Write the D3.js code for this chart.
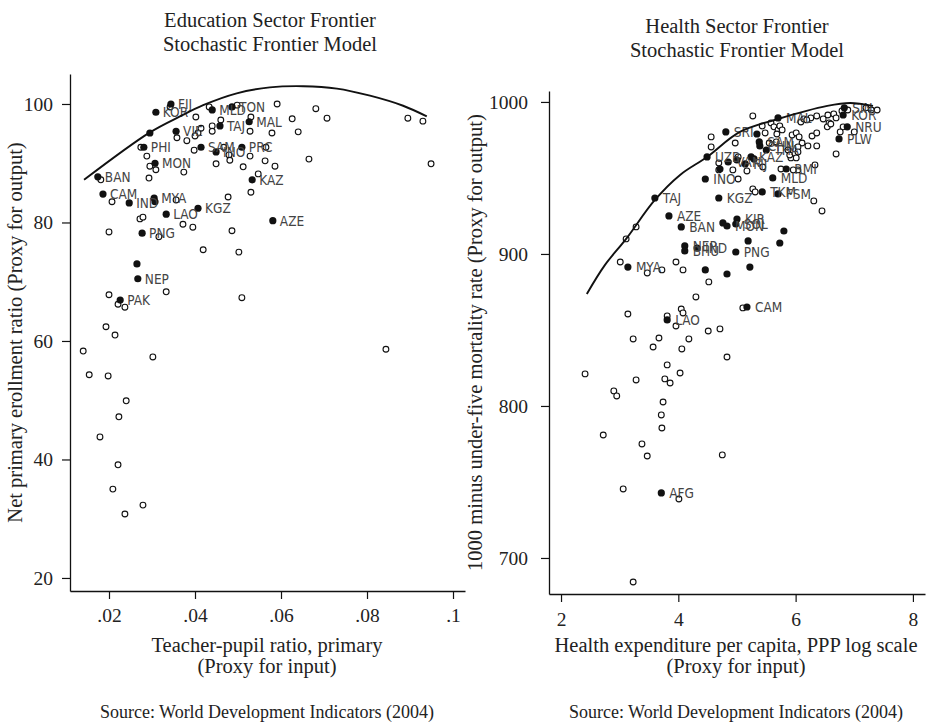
<!DOCTYPE html>
<html><head><meta charset="utf-8">
<script src="https://cdn.jsdelivr.net/npm/d3@7"></script>
<style>
body{margin:0;background:#fff;}
svg{display:block;}
.serif{font-family:"Liberation Serif","Times New Roman",serif;fill:#222;}
.lab{font-family:"DejaVu Sans Condensed","DejaVu Sans",sans-serif;font-stretch:condensed;fill:#444;font-size:13.5px;}
</style></head>
<body>
<script>
// ---------- Education panel data ----------
// filled (highlighted) countries: [label, teacher-pupil ratio, net primary enrollment]
const eduFilled = [
 ["FIJ",0.0344,100.0],["KOR",0.0309,98.6],["MLD",0.0440,99.0],["TON",0.0486,99.5],
 ["MAL",0.0526,97.0],["TAJ",0.0458,96.3],["VIE",0.0356,95.4],["",0.0295,95.1],
 ["PHI",0.0281,92.7],["SAM",0.0414,92.7],["INO",0.0449,91.9],["PRC",0.0509,92.7],
 ["MON",0.0307,90.0],["BAN",0.0174,87.7],["KAZ",0.0533,87.2],["CAM",0.0186,84.8],
 ["IND",0.0247,83.3],["MYA",0.0305,84.1],["",0.0307,83.5],["KGZ",0.0407,82.4],
 ["LAO",0.0333,81.4],["AZE",0.0581,80.3],["PNG",0.0277,78.2],["",0.0265,73.0],
 ["NEP",0.0267,70.5],["PAK",0.0226,66.9]
];
// other countries: [teacher-pupil ratio, net primary enrollment]
const eduOpen = [
 [0.0342,99.5],[0.0402,97.8],[0.0433,99.5],[0.0498,99.8],[0.0530,97.8],[0.0591,100.0],
 [0.0681,99.2],[0.0707,97.6],[0.0626,97.5],[0.0640,95.3],[0.0579,95.1],[0.0528,95.4],
 [0.0460,97.3],[0.0440,96.3],[0.0440,95.4],[0.0414,95.9],[0.0407,95.1],[0.0400,94.6],
 [0.0381,93.8],[0.0358,94.3],[0.0398,92.2],[0.0467,92.7],[0.0479,91.4],[0.0481,90.5],
 [0.0528,91.2],[0.0565,92.7],[0.0563,90.4],[0.0586,89.5],[0.0665,90.7],[0.0949,89.9],
 [0.0895,97.6],[0.0930,97.1],[0.0449,89.9],[0.0512,89.4],[0.0547,88.2],[0.0530,85.1],
 [0.0374,88.5],[0.0309,88.9],[0.0295,89.5],[0.0288,91.2],[0.0274,92.7],[0.0293,87.5],
 [0.0181,87.2],[0.0207,83.5],[0.0356,83.8],[0.0477,84.3],[0.0272,80.6],[0.0279,80.9],
 [0.0200,78.4],[0.0372,79.7],[0.0395,79.2],[0.0486,78.6],[0.0316,77.6],[0.0419,75.4],
 [0.0502,75.0],[0.0333,68.3],[0.0509,67.3],[0.0200,67.8],[0.0221,66.2],[0.0237,65.7],
 [0.0193,62.4],[0.0214,61.0],[0.0140,58.3],[0.0302,57.3],[0.0844,58.6],[0.0154,54.3],
 [0.0198,54.1],[0.0240,49.9],[0.0223,47.2],[0.0179,43.8],[0.0221,39.1],[0.0209,35.0],
 [0.0279,32.3],[0.0237,30.8]
];
// estimated frontier curve
const eduFrontier = [
 [0.0142,87.2],[0.0295,95.2],[0.0365,97.9],[0.0419,99.8],[0.0497,101.8],[0.0574,102.8],
 [0.0652,103.0],[0.0730,102.6],[0.0807,101.4],[0.0884,99.7],[0.0939,97.9]
];
const eduXTicks = [0.02,0.04,0.06,0.08,0.1];
const eduXTickLabels = [".02",".04",".06",".08",".1"];
const eduYTicks = [20,40,60,80,100];

// ---------- Health panel data ----------
// filled countries: [label, health expenditure (log), 1000 - U5MR]
const hthFilled = [
 ["SIN",6.83,996.1],["KOR",6.81,991.4],["NRU",6.88,983.6],["PLW",6.74,975.7],
 ["MAL",5.70,989.5],["SRI",4.81,980.3],["",5.34,978.9],["SAM",5.38,973.7],
 ["CHN",5.39,971.1],["THA",5.50,968.4],["UZB",4.49,963.8],["KAZ",5.24,963.8],
 ["",5.29,962.5],["VAN",4.85,960.5],["FIJ",5.14,959.2],["",5.00,961.8],
 ["",4.71,955.9],["INO",4.46,949.3],["MLD",5.61,950.0],["RMI",5.84,955.9],
 ["TKM",5.43,940.8],["FSM",5.70,939.5],["TAJ",3.60,936.8],["KGZ",4.69,936.8],
 ["AZE",3.84,925.0],["BAN",4.05,917.8],["KIR",5.00,923.0],["",4.76,920.4],
 ["MON",4.83,918.4],["SOL",4.98,919.7],["",5.80,915.1],["",5.73,907.2],
 ["",5.19,908.6],["NEP",4.11,905.3],["BHU",4.11,902.0],["IND",4.32,903.9],
 ["PNG",4.98,901.3],["MYA",3.14,891.4],["",4.46,889.5],["",4.83,886.8],
 ["",5.22,891.4],["CAM",5.17,865.1],["LAO",3.81,856.6],["AFG",3.71,742.8]
];
const hthOpen = [
 [4.56,977.0],[4.56,970.4],[5.27,990.8],[4.97,973.0],[5.43,984.2],[5.48,979.6],
 [5.58,986.2],[5.63,983.6],[5.70,981.6],[5.73,984.2],[5.68,978.9],[5.77,981.6],
 [5.55,973.0],[5.67,973.7],[5.94,978.3],[6.01,979.6],[6.06,977.0],[6.11,973.0],
 [6.04,970.4],[6.21,971.1],[6.36,971.1],[6.28,977.6],[6.36,979.6],[6.09,986.8],
 [6.14,988.8],[6.26,989.5],[6.36,990.8],[6.47,988.8],[6.55,991.4],[6.57,986.2],
 [6.65,992.1],[6.69,989.5],[6.79,994.1],[6.76,980.3],[6.81,983.6],[7.00,980.3],
 [6.89,994.7],[7.20,996.1],[7.29,994.7],[7.39,994.7],[6.69,965.8],[5.92,963.2],
 [6.01,963.2],[6.04,955.3],[5.75,955.9],[5.96,955.3],[6.33,958.6],[5.27,942.8],
 [5.31,940.8],[6.31,934.9],[6.45,928.3],[4.69,959.9],[4.69,955.3],[4.93,955.3],
 [5.02,949.3],[5.17,954.6],[5.44,957.2],[5.02,963.8],[5.87,968.4],[6.04,967.1],
 [5.90,965.1],[6.54,983.6],[6.60,985.5],[6.19,988.2],
 [3.28,917.8],[3.11,909.9],[3.01,894.7],[3.47,887.5],[3.72,889.5],[3.96,894.7],
 [4.08,889.5],[4.52,881.6],[4.30,871.7],[4.05,863.8],[4.08,861.2],[3.14,860.5],
 [5.10,864.5],[3.81,859.2],[3.96,852.6],[4.51,849.3],[4.71,850.7],[3.23,844.1],
 [3.67,844.7],[4.18,844.1],[3.57,838.8],[4.06,837.5],[4.83,832.2],[3.81,827.0],
 [2.41,821.1],[4.03,821.7],[3.28,817.1],[3.77,817.8],[3.86,815.1],[2.90,809.9],
 [2.95,806.6],[3.74,802.6],[3.71,794.1],[3.72,785.5],[2.72,780.9],[3.38,775.0],
 [3.47,767.1],[4.75,767.8],[3.06,745.4],[4.01,738.8],[3.23,684.2]
];
const hthFrontier = [
 [2.44,873.7],[2.75,892.8],[3.11,909.9],[3.60,935.5],[4.03,952.0],[4.49,963.8],
 [5.05,980.3],[5.70,988.8],[6.54,997.4],[6.93,999.3],[7.32,997.4]
];
const hthXTicks = [2,4,6,8];
const hthYTicks = [700,800,900,1000];

// ---------- drawing ----------
const W = 926, H = 725;
const svg = d3.select("body").append("svg").attr("width", W).attr("height", H);

function panel(cfg){
  const g = svg.append("g");
  const x = d3.scaleLinear().domain(cfg.xDomain).range(cfg.xRange);
  const y = d3.scaleLinear().domain(cfg.yDomain).range(cfg.yRange);

  // axes
  const xa = d3.axisBottom(x).tickValues(cfg.xTicks).tickSizeOuter(0).tickSizeInner(8)
     .tickPadding(cfg.xPad).tickFormat((d,i)=>cfg.xLabels[i]);
  const ya = d3.axisLeft(y).tickValues(cfg.yTicks).tickSizeOuter(0).tickSizeInner(8)
     .tickPadding(cfg.yPad).tickFormat(d3.format("d"));
  const gx = g.append("g").attr("transform",`translate(0,${cfg.yRange[0]})`).call(xa);
  const gy = g.append("g").attr("transform",`translate(${cfg.xRange[0]},0)`).call(ya);
  [gx,gy].forEach(a=>{
    a.select(".domain").attr("stroke","#111").attr("stroke-width",1.3);
    a.selectAll(".tick line").attr("stroke","#111").attr("stroke-width",1.2);
    a.selectAll(".tick text").attr("class","serif").style("font-size","19.5px").attr("fill","#222");
  });

  // open markers
  g.append("g").selectAll("circle").data(cfg.open).join("circle")
    .attr("cx",d=>x(d[0])).attr("cy",d=>y(d[1])).attr("r",2.9)
    .attr("fill","#fff").attr("stroke","#111").attr("stroke-width",1.1);
  // filled markers
  g.append("g").selectAll("circle").data(cfg.filled).join("circle")
    .attr("cx",d=>x(d[1])).attr("cy",d=>y(d[2])).attr("r",3.6)
    .attr("fill","#111");
  // labels
  g.append("g").selectAll("text").data(cfg.filled.filter(d=>d[0])).join("text")
    .attr("class","lab").attr("x",d=>x(d[1])+cfg.labOff).attr("y",d=>y(d[2]))
    .attr("dy","0.38em").text(d=>d[0]);
  // frontier
  g.append("path").datum(cfg.frontier)
    .attr("d", d3.line().x(d=>x(d[0])).y(d=>y(d[1])).curve(d3.curveCatmullRom.alpha(0.5)))
    .attr("fill","none").attr("stroke","#111").attr("stroke-width",1.9);

  // titles
  cfg.title.forEach((t,i)=>{
    g.append("text").attr("class","serif").attr("x",cfg.titleX).attr("y",cfg.titleY+i*24)
     .attr("text-anchor","middle").style("font-size","20.5px").text(t);
  });
  cfg.xTitle.forEach((t,i)=>{
    g.append("text").attr("class","serif").attr("x",cfg.xTitleX).attr("y",cfg.xTitleY+i*21)
     .attr("text-anchor","middle").style("font-size","20.5px").text(t);
  });
  g.append("text").attr("class","serif").attr("x",cfg.xTitleX).attr("y",718)
     .attr("text-anchor","middle").style("font-size","18px").text("Source: World Development Indicators (2004)");
  const yc = (cfg.yRange[0]+cfg.yRange[1])/2;
  g.append("text").attr("class","serif")
     .attr("transform",`translate(${cfg.yTitleX},${yc}) rotate(-90)`)
     .attr("text-anchor","middle").style("font-size","20.5px").text(cfg.yTitle);
}

panel({
  xDomain:[0.01093,0.10279], xRange:[70,465],
  yDomain:[17.8,105.06], yRange:[591,74],
  xTicks:eduXTicks, xLabels:eduXTickLabels, yTicks:eduYTicks, xPad:9, yPad:9, labOff:7,
  open:eduOpen, filled:eduFilled, frontier:eduFrontier,
  title:["Education Sector Frontier","Stochastic Frontier Model"], titleX:270, titleY:27,
  xTitle:["Teacher-pupil ratio, primary","(Proxy for input)"], xTitleX:267, xTitleY:652,
  yTitle:"Net primary erollment ratio (Proxy for output)", yTitleX:22
});
panel({
  xDomain:[1.795,8.206], xRange:[549,925],
  yDomain:[676.3,1007.2], yRange:[594,91],
  xTicks:hthXTicks, xLabels:hthXTicks.map(String), yTicks:hthYTicks, xPad:10, yPad:13, labOff:8,
  open:hthOpen, filled:hthFilled, frontier:hthFrontier,
  title:["Health Sector Frontier","Stochastic Frontier Model"], titleX:737, titleY:33,
  xTitle:["Health expenditure per capita, PPP log scale","(Proxy for input)"], xTitleX:736, xTitleY:652,
  yTitle:"1000 minus under-five mortality rate (Proxy for output)", yTitleX:482
});
</script>
</body></html>
